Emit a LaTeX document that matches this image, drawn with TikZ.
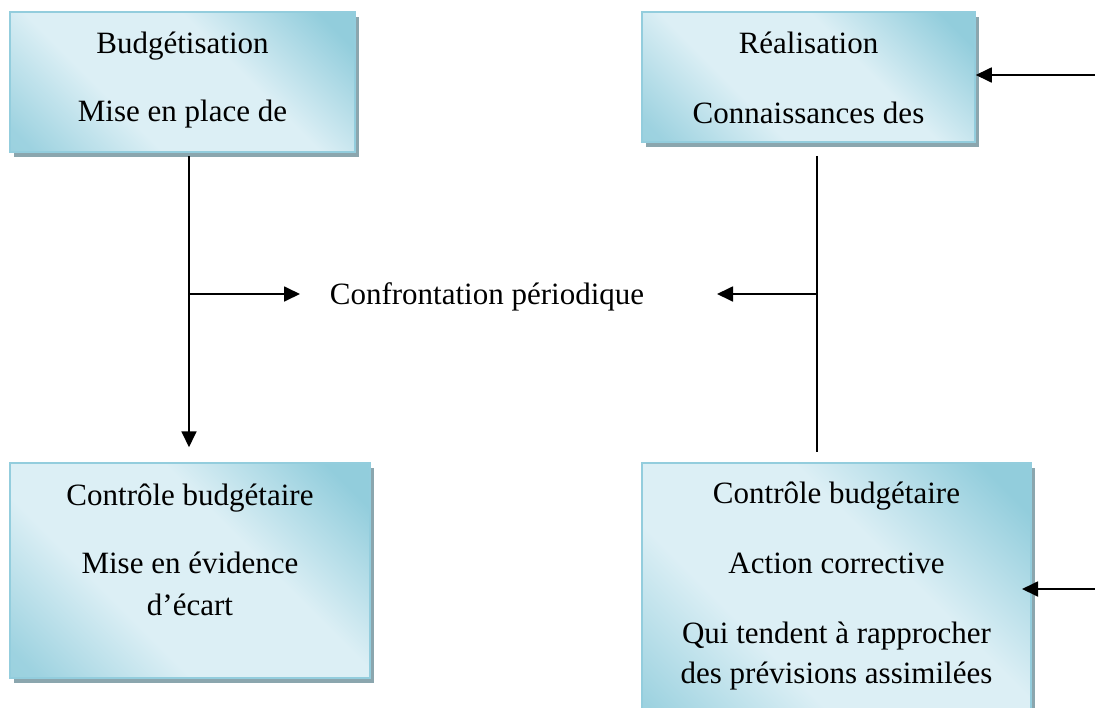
\documentclass[tikz,border=0pt]{standalone}
\usepackage{fontspec}
\setmainfont{Liberation Serif}
\usetikzlibrary{arrows.meta,shadows}
\definecolor{boxdark}{HTML}{92CDDC}
\definecolor{boxlight}{HTML}{DCEFF5}
\definecolor{boxline}{HTML}{93CDDD}
\definecolor{shadowgray}{HTML}{8BA6AE}
\pgfdeclareverticalshading{boxshade}{100bp}{color(0bp)=(boxdark); color(18bp)=(boxdark!85!boxlight); color(37bp)=(boxlight); color(60bp)=(boxlight); color(80bp)=(boxdark); color(100bp)=(boxdark)}
\tikzset{
  box/.style={rectangle, draw=boxline, line width=1.5pt, inner sep=0pt,
    shading=boxshade, shading angle=-45,
    drop shadow={shadow xshift=4pt, shadow yshift=-5pt, fill=shadowgray, opacity=1}},
  txt/.style={anchor=base, inner sep=0pt, font=\fontsize{31}{37}\selectfont},
  conn/.style={line width=1.8pt, draw=black},
  arr/.style={conn, -{Triangle[length=16pt, width=15pt]}}
}
\begin{document}
\begin{tikzpicture}[x=1pt, y=-1pt]
\useasboundingbox (0,0) rectangle (1095,707);
\clip (0,0) rectangle (1095,707);
\fill[white] (0,0) rectangle (1095,707);

% boxes
\node[box, minimum width=345pt, minimum height=140pt] (b1) at (182.5,82) {};
\node[box, minimum width=333pt, minimum height=130pt] (b2) at (808.5,77) {};
\node[box, minimum width=360pt, minimum height=215pt] (b3) at (190,570.5) {};
\node[box, minimum width=389pt, minimum height=270pt] (b4) at (836.5,598) {};

% texts
\node[txt] (t1a) at (182.5,53) {Budgétisation};
\node[txt] (t1b) at (182.5,121) {Mise en place de};
\node[txt] (t2a) at (808.5,53) {Réalisation};
\node[txt] (t2b) at (808.5,123) {Connaissances des};
\node[txt] (t3a) at (190,505) {Contrôle budgétaire};
\node[txt] (t3b) at (190,573) {Mise en évidence};
\node[txt] (t3c) at (190,615) {d’écart};
\node[txt] (t4a) at (836.5,503) {Contrôle budgétaire};
\node[txt] (t4b) at (836.5,573) {Action corrective};
\node[txt] (t4c) at (836.5,643) {Qui tendent à rapprocher};
\node[txt] (t4d) at (836.5,683) {des prévisions assimilées};
\node[txt] (conf) at (487,304) {Confrontation périodique};

% junctions and free ends
\coordinate (jl) at (189,294);
\coordinate (jr) at (817,294);
\coordinate (cl) at (300,294);
\coordinate (cr) at (717,294);
\coordinate (e1) at (1095,75);
\coordinate (e2) at (1095,589);
\coordinate (e2tip) at (1022,589);

% connectors
\draw[arr, shorten <=3pt, shorten >=15pt] (b1.south -| jl) -- (b3.north -| jl);
\draw[arr] (jl) -- (cl);
\draw[conn, shorten <=13pt, shorten >=10pt] (b2.south -| jr) -- (b4.north -| jr);
\draw[arr] (jr) -- (cr);
\draw[arr] (e1) -- (b2.east |- e1);
\draw[arr] (e2) -- (e2tip);
\end{tikzpicture}
\end{document}
